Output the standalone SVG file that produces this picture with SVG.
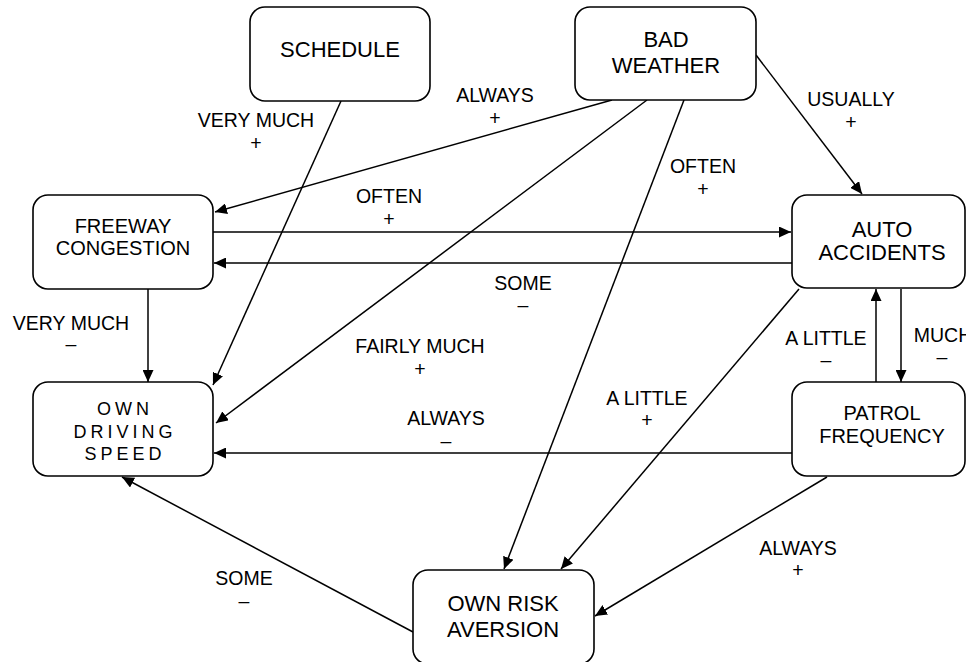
<svg xmlns="http://www.w3.org/2000/svg" width="966" height="662" viewBox="0 0 966 662">
<style>
  .box { fill: #ffffff; stroke: #000000; stroke-width: 1.6; }
  .nt { font-family: "Liberation Sans", Arial, sans-serif; font-size: 22px; fill: #000; text-anchor: middle; }
  .ns { font-family: "Liberation Sans", Arial, sans-serif; font-size: 20px; fill: #000; text-anchor: middle; }
  .nsp { font-family: "Liberation Sans", Arial, sans-serif; font-size: 18px; letter-spacing: 4px; fill: #000; text-anchor: middle; }
  .lb { font-family: "Liberation Sans", Arial, sans-serif; font-size: 19.5px; fill: #000; text-anchor: middle; }
  .c { stroke: #000; stroke-width: 1.5; fill: none; marker-end: url(#arr); }
</style>
<defs>
  <marker id="arr" markerUnits="userSpaceOnUse" markerWidth="12" markerHeight="11" refX="12" refY="5.5" orient="auto" viewBox="0 0 12 11">
    <path d="M0,0 L12,5.5 L0,11 z" fill="#000"/>
  </marker>
</defs>
<rect width="966" height="662" fill="#ffffff"/>

<g id="connectors">
  <line class="c" x1="341" y1="101" x2="213" y2="385"/>
  <line class="c" x1="612" y1="100" x2="215" y2="212"/>
  <line class="c" x1="647" y1="100" x2="216" y2="423"/>
  <line class="c" x1="684" y1="100" x2="504" y2="569"/>
  <line class="c" x1="756" y1="55" x2="862" y2="194"/>
  <line class="c" x1="213" y1="232" x2="791" y2="232"/>
  <line class="c" x1="792" y1="263" x2="214" y2="263"/>
  <line class="c" x1="148" y1="289" x2="148" y2="382"/>
  <line class="c" x1="799" y1="289" x2="561" y2="569"/>
  <line class="c" x1="876" y1="382" x2="876" y2="289"/>
  <line class="c" x1="901" y1="289" x2="901" y2="382"/>
  <line class="c" x1="792" y1="453" x2="214" y2="453"/>
  <line class="c" x1="827" y1="477" x2="595" y2="616"/>
  <line class="c" x1="413" y1="632" x2="122" y2="477"/>
</g>

<g id="labels">
  <text class="lb" x="256" y="127">VERY MUCH</text>
  <text class="lb" x="256" y="150">+</text>
  <text class="lb" x="495" y="102">ALWAYS</text>
  <text class="lb" x="495" y="125">+</text>
  <text class="lb" x="851" y="106">USUALLY</text>
  <text class="lb" x="851" y="129">+</text>
  <text class="lb" x="703" y="173">OFTEN</text>
  <text class="lb" x="703" y="196">+</text>
  <text class="lb" x="389" y="203">OFTEN</text>
  <text class="lb" x="389" y="226">+</text>
  <text class="lb" x="523" y="290">SOME</text>
  <text class="lb" x="523" y="312">–</text>
  <text class="lb" x="71" y="330">VERY MUCH</text>
  <text class="lb" x="71" y="351">–</text>
  <text class="lb" x="420" y="353">FAIRLY MUCH</text>
  <text class="lb" x="420" y="376">+</text>
  <text class="lb" x="446" y="425">ALWAYS</text>
  <text class="lb" x="446" y="448">–</text>
  <text class="lb" x="647" y="405">A LITTLE</text>
  <text class="lb" x="647" y="427">+</text>
  <text class="lb" x="826" y="345">A LITTLE</text>
  <text class="lb" x="826" y="367">–</text>
  <text class="lb" x="943" y="342">MUCH</text>
  <text class="lb" x="942" y="364">–</text>
  <text class="lb" x="798" y="555">ALWAYS</text>
  <text class="lb" x="798" y="577">+</text>
  <text class="lb" x="244" y="585">SOME</text>
  <text class="lb" x="244" y="608">–</text>
</g>

<g id="schedule">
  <rect class="box" x="250" y="7" width="180" height="94" rx="15"/>
  <text class="nt" x="340" y="57">SCHEDULE</text>
</g>
<g id="bad-weather">
  <rect class="box" x="575" y="7" width="181" height="93" rx="15"/>
  <text class="nt" x="666" y="47">BAD</text>
  <text class="nt" x="666" y="73">WEATHER</text>
</g>
<g id="freeway-congestion">
  <rect class="box" x="33" y="195" width="180" height="94" rx="15"/>
  <text class="ns" x="123" y="233">FREEWAY</text>
  <text class="ns" x="123" y="255">CONGESTION</text>
</g>
<g id="auto-accidents">
  <rect class="box" x="792" y="195" width="173" height="93" rx="15"/>
  <text class="nt" x="882" y="237">AUTO</text>
  <text class="nt" x="882" y="260">ACCIDENTS</text>
</g>
<g id="own-driving-speed">
  <rect class="box" x="33" y="382" width="180" height="94" rx="15"/>
  <text class="nsp" x="125" y="415">OWN</text>
  <text class="nsp" x="125" y="438">DRIVING</text>
  <text class="nsp" x="125" y="460">SPEED</text>
</g>
<g id="patrol-frequency">
  <rect class="box" x="792" y="382" width="173" height="94" rx="15"/>
  <text class="ns" x="882" y="420">PATROL</text>
  <text class="ns" x="882" y="443">FREQUENCY</text>
</g>
<g id="own-risk-aversion">
  <rect class="box" x="413" y="570" width="181" height="94" rx="15"/>
  <text class="nt" x="503" y="611">OWN RISK</text>
  <text class="nt" x="503" y="637">AVERSION</text>
</g>
</svg>
